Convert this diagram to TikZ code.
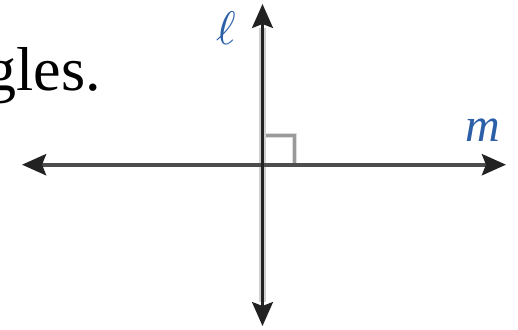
\documentclass[tikz,border=0pt]{standalone}
\usepackage{fontspec}
\setmainfont{Liberation Serif}
\usetikzlibrary{arrows.meta}
\definecolor{lblblue}{HTML}{2B5FA8}
\definecolor{axisdark}{HTML}{222222}
\definecolor{axisgray}{HTML}{4D4D4D}
\definecolor{halo}{HTML}{CFCFCF}
\definecolor{rightgray}{HTML}{9A9A9A}
\tikzset{
  bothtips/.style={{Stealth[length=24pt,width=21pt,inset=4pt,color=axisdark]}-{Stealth[length=24pt,width=21pt,inset=4pt,color=axisdark]}},
  vline/.style={bothtips, line width=2.6pt, draw=axisdark},
  vhalo/.style={line width=6.5pt, draw=halo},
  hline/.style={bothtips, line width=4.2pt, draw=axisgray},
  rmark/.style={line width=3pt, draw=rightgray},
  rhalo/.style={line width=5pt, draw=halo!70},
  lbl/.style={text=lblblue, inner sep=0pt},
}
\begin{document}
\begin{tikzpicture}[x=1pt,y=-1pt]
\useasboundingbox (0,0) rectangle (518,329);
\clip (0,0) rectangle (518,329);
\fill[white] (0,0) rectangle (518,329);
% text
\node[anchor=base east, inner sep=0pt, font=\fontsize{62}{66}\selectfont] (txt) at (101,90) {gles.};
% coordinates
\coordinate (ltop) at (262.5,4);
\coordinate (lbot) at (262.5,326);
\coordinate (htop) at (262.5,28);
\coordinate (hbot) at (262.5,302);
\coordinate (mleft) at (22,164.7);
\coordinate (mright) at (506,164.7);
\coordinate (r1) at (262.5,135.5);
\coordinate (r2) at (294,135.5);
\coordinate (r3) at (294,164.7);
% right angle mark
\draw[rhalo] (r1) -- (r2) -- (r3);
\draw[rmark] (r1) -- (r2) -- (r3);
% vertical line l
\draw[vhalo] (htop) -- (hbot);
\draw[vline] (ltop) -- (lbot);
% horizontal line m
\draw[hline] (mleft) -- (mright);
\fill[axisdark] (261,162.5) rectangle (264,167);
% labels
\node[lbl] (llab) at (226,28.5) {\scalebox{4.7}{$\ell$}};
\node[lbl, font=\itshape\fontsize{48}{52}\selectfont] (mlab) at (483,130) {m};
\end{tikzpicture}
\end{document}
